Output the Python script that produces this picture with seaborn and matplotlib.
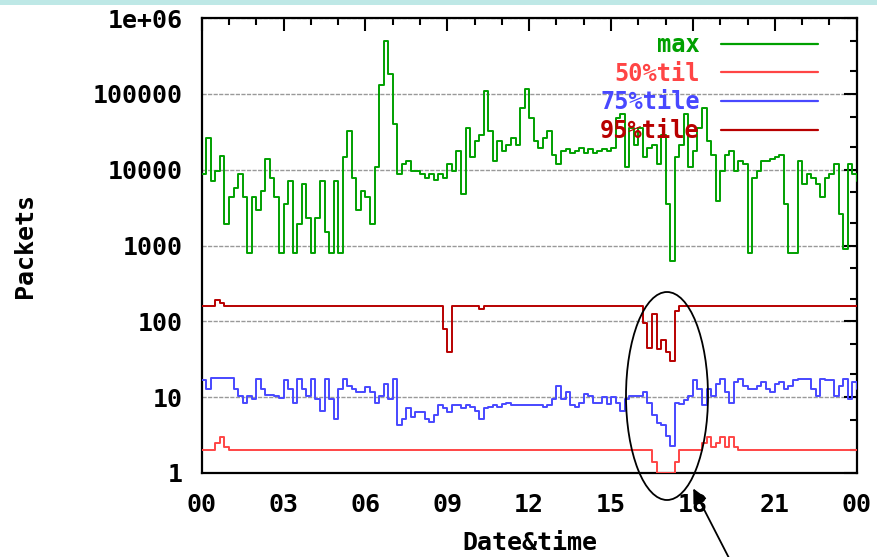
import matplotlib
matplotlib.use("Agg")
import matplotlib.pyplot as plt
import numpy as np
import pandas as pd
import seaborn as sns
from matplotlib.ticker import LogLocator, MultipleLocator, NullFormatter
from matplotlib.patches import Ellipse, Rectangle
from matplotlib.lines import Line2D

# ---------------- data (10-minute samples over 24 h) ----------------
minutes = list(range(0, 24 * 60 + 1, 10))

max_vals = [8700, 26000, 7100, 9500, 15000, 1900, 4300, 5800, 8700, 4300, 800, 4300,
            2900, 5200, 14000, 7800, 4300, 800, 3500, 7100, 800, 1900, 6500, 2300,
            800, 2300, 7100, 1500, 800, 7100, 800, 14500, 32000, 7800, 2900, 5200,
            4300, 1900, 10700, 130000, 490000, 180000, 40000, 8700, 11700, 12900, 9500, 9500,
            8700, 7800, 8700, 7400, 8700, 7800, 11700, 9500, 17800, 4800, 35000, 14500,
            24000, 29000, 110000, 32000, 12900, 24000, 17800, 21000, 26000, 21000, 66000, 115000,
            48000, 24000, 19500, 26000, 32000, 15800, 11700, 17800, 18600, 16600, 17800, 19500,
            16600, 18600, 16600, 17800, 18600, 17800, 19500, 48000, 54000, 10700, 35000, 21000,
            35000, 14500, 19500, 21000, 11700, 29000, 3500, 630, 14500, 21000, 54000, 10700,
            17800, 35000, 66000, 24000, 15800, 3900, 9500, 15800, 17800, 9500, 12900, 11700,
            800, 7800, 9500, 12900, 12900, 13800, 14500, 15800, 3500, 800, 800, 12900,
            6500, 8700, 7800, 6500, 4300, 7800, 8700, 11700, 2600, 900, 11700, 8700, 7100]

p50_vals = ([2, 2, 2, 2.5, 3, 2.2] + [2] * 93 + [1.4, 1, 1, 1, 1, 1.4] + [2] * 5
            + [2.5, 3, 2.2, 2.5, 3, 2.2, 3, 2.2] + [2] * 27)

p75_vals = [16.6, 12.9, 17.8, 17.8, 17.8, 17.8, 17.8, 12.9, 10.5, 8.5, 10.5, 9.5,
            17.4, 12.9, 10.7, 10.7, 10.5, 9.8, 16.6, 12.9, 8.5, 17.4, 12.9, 10.5,
            17.4, 9.5, 6.6, 17.4, 9.5, 5.1, 12.9, 17.4, 14.1, 12.9, 11.7, 11.7,
            13.5, 11.7, 8.5, 10.5, 15.1, 9.5, 17.4, 4.3, 5.1, 7.1, 5.5, 6.3,
            6.3, 5.1, 4.7, 5.8, 7.8, 7.1, 6.3, 7.8, 7.8, 7.1, 7.8, 7.4,
            6.6, 5.1, 7.1, 7.4, 7.8, 7.4, 8.1, 8.5, 7.8, 7.8, 7.8, 7.8,
            7.8, 7.8, 7.8, 7.4, 7.8, 9.5, 14.1, 9.5, 11.7, 7.8, 7.4, 8.5,
            11.0, 10.5, 8.5, 8.5, 10, 8.1, 10, 8.5, 6.6, 9.5, 10.5, 10.5,
            10.5, 11.7, 8.5, 5.8, 4.5, 4.3, 3.1, 2.3, 8.5, 8.1, 9.1, 10.5,
            16.6, 12.9, 7.8, 12.9, 10.5, 15.1, 17.4, 11.7, 8.5, 15.8, 17.4, 14.1,
            12.9, 12.9, 14.1, 15.8, 12.9, 11.7, 15.1, 15.8, 12.9, 14.1, 16.6, 17.4,
            17.4, 17.4, 12.9, 10.5, 17.4, 16.6, 16.6, 10.5, 14.1, 17.4, 9.5, 15.8, 12.9]

p95_vals = ([160] * 3 + [190, 175] + [160] * 48 + [80, 40] + [160] * 6 + [145]
            + [160] * 35 + [95, 45, 125, 43, 56, 40, 30, 135] + [160] * 40)

series_names = ["max", "50%til", "75%tile", "95%tile"]
series_colors = ["#00a000", "#ff4545", "#4848ff", "#b80000"]

x_tick_labels = ["00", "03", "06", "09", "12", "15", "18", "21", "00"]
y_tick_values = [1, 10, 100, 1000, 10000, 100000, 1000000]
y_tick_labels = ["1", "10", "100", "1000", "10000", "100000", "1e+06"]

# ---------------- build long table ----------------
hours = [m / 60 for m in minutes]
frames = []
for name, vals in zip(series_names, [max_vals, p50_vals, p75_vals, p95_vals]):
    frames.append(pd.DataFrame({"hour": hours, "value": vals, "series": name}))
df = pd.concat(frames, ignore_index=True)

# ---------------- style ----------------
sns.set_style("white")
plt.rcParams["font.family"] = ["DejaVu Sans Mono", "DejaVu Sans"]
plt.rcParams["font.weight"] = "bold"
plt.rcParams["text.color"] = "black"
plt.rcParams["xtick.color"] = "black"
plt.rcParams["ytick.color"] = "black"

W, H = 878, 557
fig = plt.figure(figsize=(W / 100, H / 100), dpi=100)
ax = fig.add_axes([201.7 / W, 1 - 473 / H, (856.7 - 201.7) / W, (473 - 18) / H])
ax.set_yscale("log")

palette = dict(zip(series_names, series_colors))
sns.lineplot(data=df, x="hour", y="value", hue="series", palette=palette,
             hue_order=series_names, estimator=None, sort=False,
             drawstyle="steps-post", lw=1.4, legend=False, ax=ax, zorder=3)

ax.set_xlim(0, 24)
ax.set_ylim(1, 1e6)
ax.set_xticks(list(range(0, 25, 3)))
ax.set_xticklabels(x_tick_labels, fontweight="bold")
ax.xaxis.set_minor_locator(MultipleLocator(1))
ax.set_yticks(y_tick_values)
ax.set_yticklabels(y_tick_labels, fontweight="bold")
ax.yaxis.set_minor_locator(LogLocator(base=10, subs=[2, 5]))
ax.yaxis.set_minor_formatter(NullFormatter())

ax.tick_params(which="both", direction="in", top=True, right=True, width=1.5, color="black")
ax.tick_params(which="major", length=9.5)
ax.tick_params(which="minor", length=5)
ax.tick_params(axis="y", which="major", pad=14, labelsize=18, labelcolor="black")
ax.tick_params(axis="x", which="major", pad=14.5, labelsize=18, labelcolor="black")
ax.set_xlabel("")
ax.set_ylabel("")

for sp in ax.spines.values():
    sp.set_color("black")
    sp.set_linewidth(1.6)

ax.yaxis.grid(True, which="major", color="#999999", linestyle=(0, (3, 1)), lw=1.0, zorder=1)
ax.xaxis.grid(False)

# legend
handles = [Line2D([0], [0], color=c, lw=1.6) for c in series_colors]
fs = 17
leg = ax.legend(handles, series_names, loc="upper right",
                bbox_to_anchor=(818 / W, 1 - 33 / H), bbox_transform=fig.transFigure,
                markerfirst=False, frameon=False,
                prop={"family": ["DejaVu Sans Mono"], "size": fs, "weight": "bold"},
                handlelength=4.1, handletextpad=0.9, labelspacing=0.2,
                borderpad=0, borderaxespad=0, labelcolor="linecolor")

# axis titles
fig.text(25 / W, 1 - 245 / H, "Packets", rotation=90, ha="center", va="center",
         fontsize=18, fontweight="bold")
fig.text(530 / W, 1 - 543 / H, "Date&time", ha="center", va="center",
         fontsize=18, fontweight="bold")

# top cyan band
fig.patches.append(Rectangle((0, 1 - 5 / H), 1, 5 / H, transform=fig.transFigure,
                             facecolor="#bee8e6", edgecolor="none", zorder=0))

# ellipse annotation
fig.patches.append(Ellipse((667 / W, 1 - 396 / H), 82 / W, 208 / H, transform=fig.transFigure,
                           fill=False, edgecolor="black", lw=1.3, zorder=10))
fig.patches[-1].set_clip_on(False)
ax.annotate("", xy=(692 / W, 1 - 486 / H), xycoords="figure fraction",
            xytext=(730 / W, 1 - 560 / H), textcoords="figure fraction",
            arrowprops=dict(arrowstyle="-|>", color="black", lw=1.3, mutation_scale=22),
            annotation_clip=False)

fig.savefig("out.png", dpi=100)
